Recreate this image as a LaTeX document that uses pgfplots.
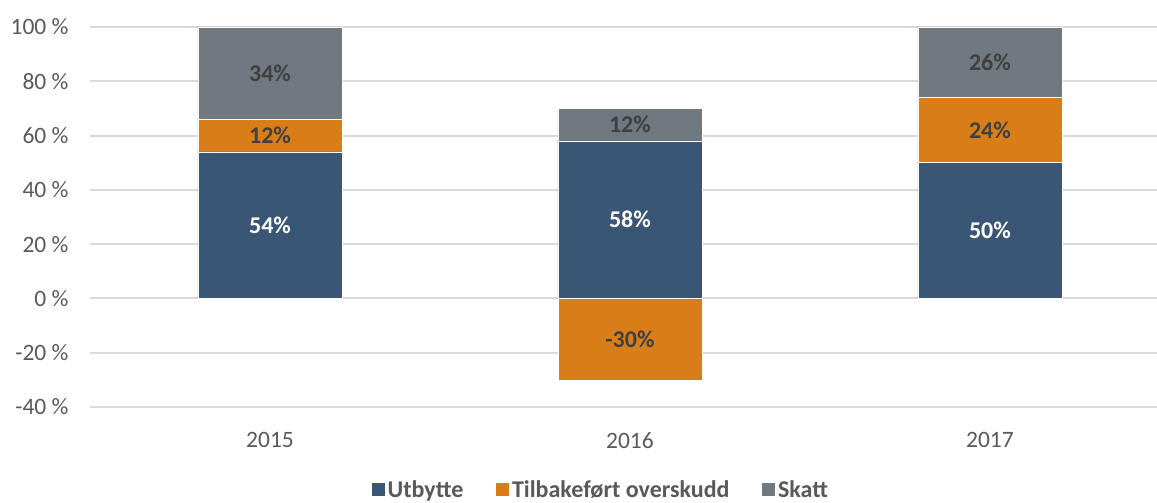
\documentclass[border=0pt]{standalone}
\usepackage{fontspec}
\setmainfont{Carlito}
\usepackage{pgfplots}
\pgfplotsset{compat=1.18}
\usepackage{pgfplotstable}
\definecolor{cblue}{HTML}{3A5675}
\definecolor{corange}{HTML}{D87D17}
\definecolor{cgray}{HTML}{707880}
\definecolor{ctxt}{HTML}{404040}
\definecolor{ctick}{HTML}{595959}
\definecolor{cgrid}{HTML}{D9D9D9}

\pgfplotstableread{
x utb til skatt
0 54 12 34
1 58 0 12
2 50 24 26
}\stacked
\pgfplotstableread{
x y
1 -30
}\negbar
\pgfplotstableread{
x y label
0 27 54\%
1 29 58\%
2 25 50\%
}\whitelabels
\pgfplotstableread{
x y label
0 60 12\%
0 83 34\%
1 64 12\%
1 -15 -30\%
2 62 24\%
2 87 26\%
}\darklabels

\pgfplotsset{
  common/.style={
    at={(0pt,0pt)}, anchor=south west,
    scale only axis, width=1067pt, height=380pt,
    xmin=-0.5, xmax=2.464, ymin=-40, ymax=100,
  },
}

\begin{document}
\begin{tikzpicture}
\useasboundingbox (-90pt,-96pt) rectangle (1067pt,407pt);
\begin{axis}[common,
  ybar stacked, bar width=144pt,
  axis line style={draw=none},
  major tick length=0pt,
  ymajorgrids, grid style={cgrid, line width=2pt},
  ytick={-40,-20,0,20,40,60,80,100},
  yticklabels={-40 \%,-20 \%,0 \%,20 \%,40 \%,60 \%,80 \%,100 \%},
  xtick={0,1,2}, xticklabels={2015,2016,2017},
  tick label style={font=\fontsize{23.5}{28}\selectfont, text=ctick},
  yticklabel style={xshift=-18pt},
  xticklabel style={yshift=-22pt},
  legend style={at={(0.4785,-0.218)}, anchor=center, draw=none,
    legend columns=3, font=\bfseries\fontsize{24}{28}\selectfont, text=ctick,
    /tikz/every even column/.append style={column sep=30pt}},
  legend image code/.code={\fill[#1] (0pt,-6pt) rectangle (14pt,8pt);},
  legend cell align=left,
]
\addplot[fill=cblue, draw=white, line width=0.6pt] table[x=x, y=utb] {\stacked};
\addlegendentry{Utbytte}
\addplot[fill=corange, draw=white, line width=0.6pt] table[x=x, y=til] {\stacked};
\addlegendentry{Tilbakeført overskudd}
\addplot[fill=cgray, draw=white, line width=0.6pt] table[x=x, y=skatt] {\stacked};
\addlegendentry{Skatt}
\end{axis}
\begin{axis}[common, hide axis]
\addplot[ybar, bar width=144pt, bar shift=0pt, fill=corange, draw=white, line width=0.6pt] table[x=x, y=y] {\negbar};
\addplot[draw=none, nodes near coords, point meta=explicit symbolic,
  every node near coord/.style={anchor=center, text=white, font=\bfseries\fontsize{24}{28}\selectfont}]
  table[x=x, y=y, meta=label] {\whitelabels};
\addplot[draw=none, nodes near coords, point meta=explicit symbolic,
  every node near coord/.style={anchor=center, text=ctxt, font=\bfseries\fontsize{24}{28}\selectfont}]
  table[x=x, y=y, meta=label] {\darklabels};
\end{axis}
\end{tikzpicture}
\end{document}
